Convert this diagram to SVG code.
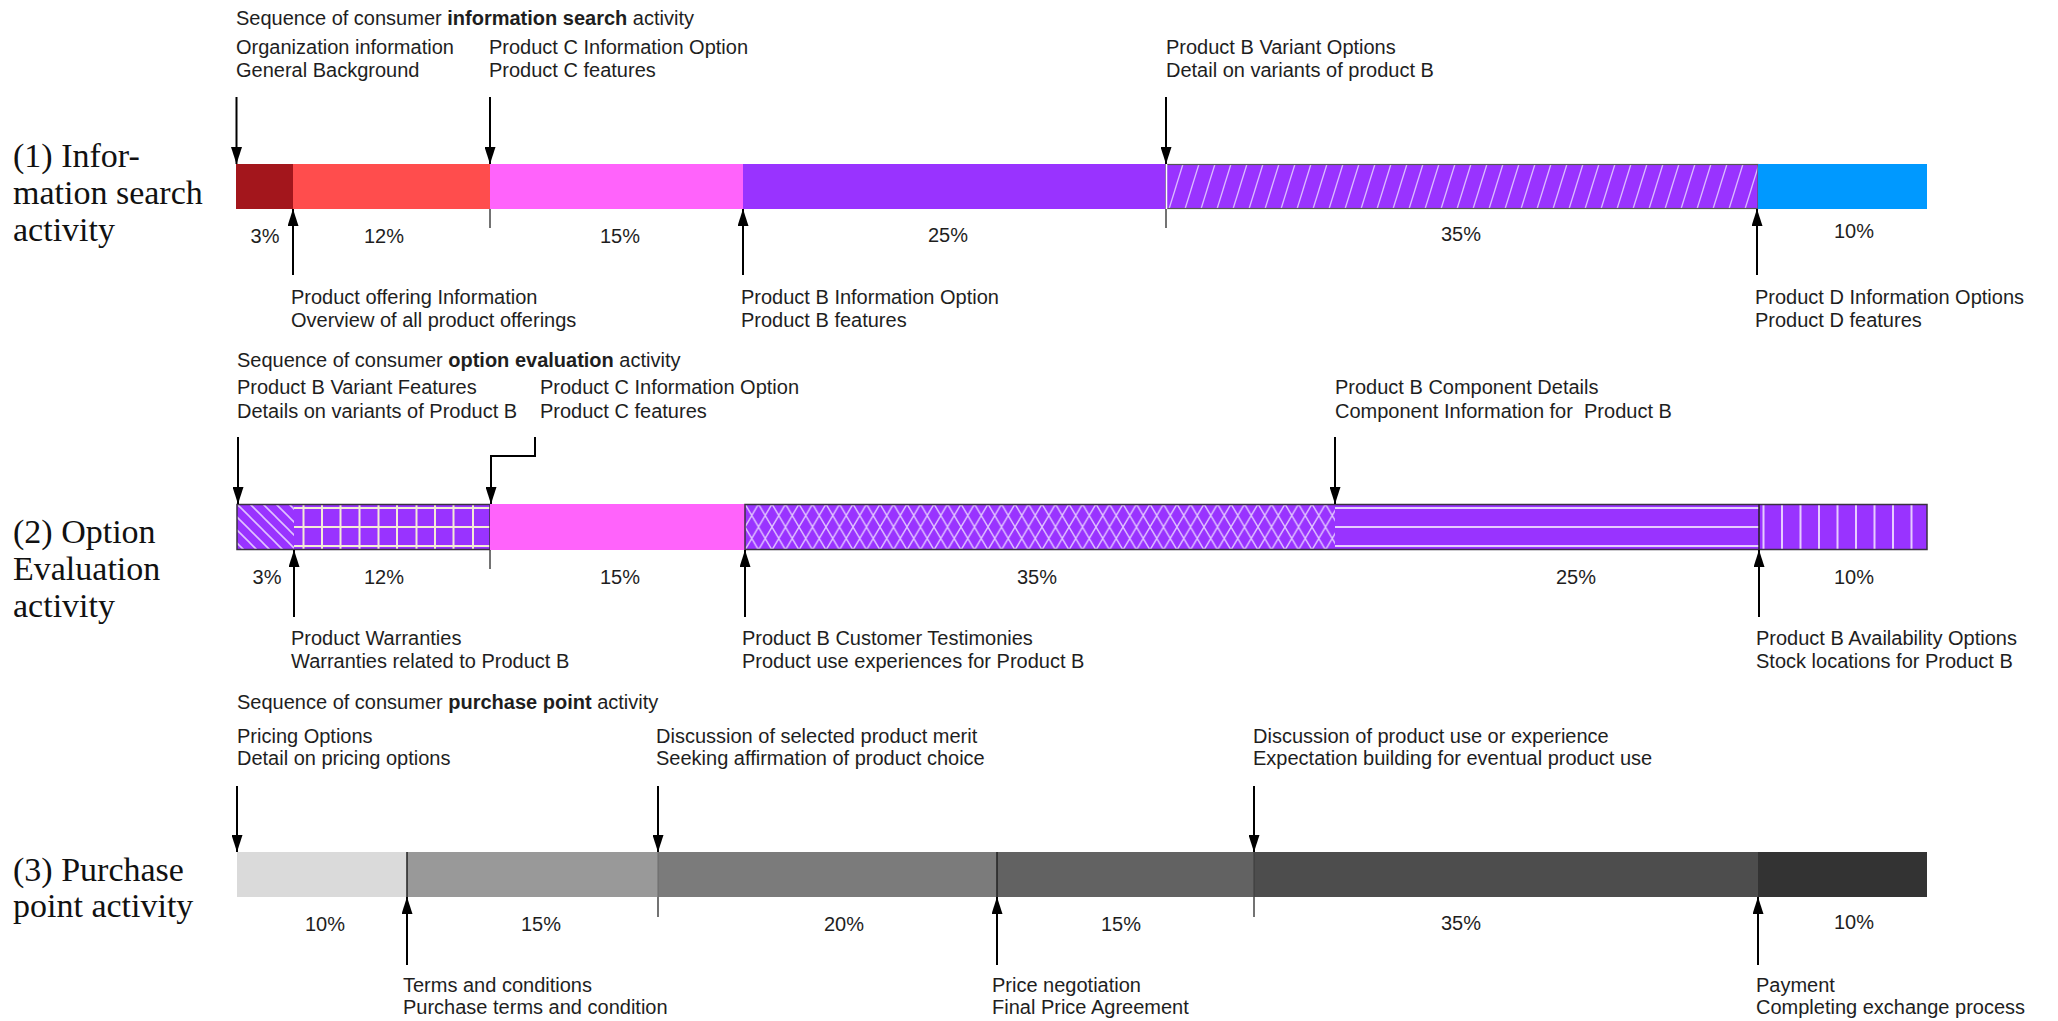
<svg xmlns="http://www.w3.org/2000/svg" width="2058" height="1021" viewBox="0 0 2058 1021">
<style>
.t{font-family:"Liberation Sans",Arial,sans-serif;font-size:20px;fill:#1e1e1e}
.c{text-anchor:middle}
.b{font-weight:bold}
.side{font-family:"Liberation Serif","Times New Roman",serif;font-size:34px;fill:#111}
.arr{stroke:#000;stroke-width:2;fill:none;marker-end:url(#ah)}
.tick{stroke:#444;stroke-width:1.5}
.lav{stroke:#e6ccff;stroke-width:2}
.cream{stroke:#f3ead6;stroke-width:2}
.ol{fill:none;stroke:#3a3040;stroke-width:1.5}
</style>
<defs>
<marker id="ah" markerUnits="userSpaceOnUse" markerWidth="17" markerHeight="11" viewBox="0 0 17 11" refX="17" refY="5.5" orient="auto">
<path d="M0,0 L17,5.5 L0,11 z" fill="#000"/>
</marker>
<pattern id="hatchR" patternUnits="userSpaceOnUse" x="0" y="164" width="16" height="45">
<rect width="16" height="45" fill="#9933ff"/>
<path d="M1,45 L15,0" stroke="#dcbcff" stroke-width="1.3"/>
</pattern>
<pattern id="hatchL" patternUnits="userSpaceOnUse" x="237" y="504" width="13" height="13">
<rect width="13" height="13" fill="#9933ff"/>
<path d="M0,0 L13,13 M-2,11 L2,15 M11,-2 L15,2" stroke="#e0c2ff" stroke-width="1.6"/>
</pattern>
<pattern id="cross" patternUnits="userSpaceOnUse" x="745" y="504" width="13.5" height="23">
<rect width="13.5" height="23" fill="#9933ff"/>
<path d="M0,0 L13.5,23 M13.5,0 L0,23" stroke="#e0c2ff" stroke-width="1.4"/>
</pattern>
</defs>
<rect width="2058" height="1021" fill="#fff"/>

<!-- Side labels -->
<g id="label-row1">
<text class="side" x="13" y="167">(1) Infor-</text>
<text class="side" x="13" y="204">mation search</text>
<text class="side" x="13" y="241">activity</text>
</g>
<g id="label-row2">
<text class="side" x="13" y="543">(2) Option</text>
<text class="side" x="13" y="580">Evaluation</text>
<text class="side" x="13" y="617">activity</text>
</g>
<g id="label-row3">
<text class="side" x="13" y="881">(3) Purchase</text>
<text class="side" x="13" y="917">point activity</text>
</g>

<!-- Row 1 bar -->
<g id="row1-bar">
<rect id="r1-s1" x="236" y="164" width="57" height="45" fill="#a3161c"/>
<rect id="r1-s2" x="293" y="164" width="197" height="45" fill="#ff4d4d"/>
<rect id="r1-s3" x="490" y="164" width="253" height="45" fill="#ff63fb"/>
<rect id="r1-s4" x="743" y="164" width="423" height="45" fill="#9933ff"/>
<rect id="r1-s5" x="1166" y="164" width="592" height="45" fill="url(#hatchR)"/>
<rect x="1166" y="164.5" width="592" height="44" fill="none" stroke="#555" stroke-width="1.2"/>
<line x1="1758" y1="164.5" x2="1842" y2="164.5" stroke="#bbb" stroke-width="1"/>
<rect id="r1-s6" x="1758" y="164" width="169" height="45" fill="#0099ff"/>
<line x1="1166.5" y1="164" x2="1166.5" y2="209" stroke="#fff" stroke-width="1.5"/>
</g>
<g id="row1-text">
<text class="t" x="236" y="25">Sequence of consumer <tspan class="b">information search</tspan> activity</text>
<text class="t" x="236" y="54">Organization information</text>
<text class="t" x="236" y="77">General Background</text>
<text class="t" x="489" y="54">Product C Information Option</text>
<text class="t" x="489" y="77">Product C features</text>
<text class="t" x="1166" y="54">Product B Variant Options</text>
<text class="t" x="1166" y="77">Detail on variants of product B</text>
<text class="t" x="291" y="304">Product offering Information</text>
<text class="t" x="291" y="327">Overview of all product offerings</text>
<text class="t" x="741" y="304">Product B Information Option</text>
<text class="t" x="741" y="327">Product B features</text>
<text class="t" x="1755" y="304">Product D Information Options</text>
<text class="t" x="1755" y="327">Product D features</text>
<text class="t c" x="265" y="243">3%</text>
<text class="t c" x="384" y="243">12%</text>
<text class="t c" x="620" y="243">15%</text>
<text class="t c" x="948" y="242">25%</text>
<text class="t c" x="1461" y="241">35%</text>
<text class="t c" x="1854" y="238">10%</text>
</g>

<!-- Row 2 bar -->
<g id="row2-bar">
<rect id="r2-s1" x="237" y="504" width="57" height="46" fill="url(#hatchL)"/>
<g id="r2-s2">
<rect x="294" y="504" width="196" height="46" fill="#9933ff"/>
<line class="cream" x1="294" y1="508" x2="490" y2="508"/>
<line class="cream" x1="294" y1="527" x2="490" y2="527"/>
<line class="cream" x1="294" y1="546" x2="490" y2="546"/>
<line class="cream" x1="303.5" y1="504" x2="303.5" y2="550"/>
<line class="cream" x1="322" y1="504" x2="322" y2="550"/>
<line class="cream" x1="340.5" y1="504" x2="340.5" y2="550"/>
<line class="cream" x1="359.5" y1="504" x2="359.5" y2="550"/>
<line class="cream" x1="378.5" y1="504" x2="378.5" y2="550"/>
<line class="cream" x1="397" y1="504" x2="397" y2="550"/>
<line class="cream" x1="416.5" y1="504" x2="416.5" y2="550"/>
<line class="cream" x1="435" y1="504" x2="435" y2="550"/>
<line class="cream" x1="453.5" y1="504" x2="453.5" y2="550"/>
<line class="cream" x1="473" y1="504" x2="473" y2="550"/>
</g>
<rect class="ol" x="237" y="504.5" width="253" height="45"/>
<rect id="r2-s3" x="490" y="504" width="255" height="46" fill="#ff63fb"/>
<rect id="r2-s4" x="745" y="504" width="590" height="46" fill="url(#cross)"/>
<g id="r2-s5">
<rect x="1335" y="504" width="424" height="46" fill="#9933ff"/>
<line class="lav" x1="1335" y1="508" x2="1759" y2="508"/>
<line class="lav" x1="1335" y1="527" x2="1759" y2="527"/>
<line class="lav" x1="1335" y1="546" x2="1759" y2="546"/>
</g>
<g id="r2-s6">
<rect x="1759" y="504" width="168" height="46" fill="#9933ff"/>
<line class="lav" x1="1763.5" y1="504" x2="1763.5" y2="550"/>
<line class="lav" x1="1782" y1="504" x2="1782" y2="550"/>
<line class="lav" x1="1800.5" y1="504" x2="1800.5" y2="550"/>
<line class="lav" x1="1819" y1="504" x2="1819" y2="550"/>
<line class="lav" x1="1837.5" y1="504" x2="1837.5" y2="550"/>
<line class="lav" x1="1856" y1="504" x2="1856" y2="550"/>
<line class="lav" x1="1874.5" y1="504" x2="1874.5" y2="550"/>
<line class="lav" x1="1893" y1="504" x2="1893" y2="550"/>
<line class="lav" x1="1911.5" y1="504" x2="1911.5" y2="550"/>
</g>
<rect class="ol" x="745" y="504.5" width="1182" height="45"/>
<line x1="1759" y1="504" x2="1759" y2="550" stroke="#222" stroke-width="1.5"/>
</g>
<g id="row2-text">
<text class="t" x="237" y="367">Sequence of consumer <tspan class="b">option evaluation</tspan> activity</text>
<text class="t" x="237" y="394">Product B Variant Features</text>
<text class="t" x="237" y="418">Details on variants of Product B</text>
<text class="t" x="540" y="394">Product C Information Option</text>
<text class="t" x="540" y="418">Product C features</text>
<text class="t" x="1335" y="394">Product B Component Details</text>
<text class="t" x="1335" y="418" style="white-space:pre">Component Information for  Product B</text>
<text class="t" x="291" y="645">Product Warranties</text>
<text class="t" x="291" y="668">Warranties related to Product B</text>
<text class="t" x="742" y="645">Product B Customer Testimonies</text>
<text class="t" x="742" y="668">Product use experiences for Product B</text>
<text class="t" x="1756" y="645">Product B Availability Options</text>
<text class="t" x="1756" y="668">Stock locations for Product B</text>
<text class="t c" x="267" y="584">3%</text>
<text class="t c" x="384" y="584">12%</text>
<text class="t c" x="620" y="584">15%</text>
<text class="t c" x="1037" y="584">35%</text>
<text class="t c" x="1576" y="584">25%</text>
<text class="t c" x="1854" y="584">10%</text>
</g>

<!-- Row 3 bar -->
<g id="row3-bar">
<rect id="r3-s1" x="237" y="852" width="170" height="45" fill="#dadada"/>
<rect id="r3-s2" x="407" y="852" width="251" height="45" fill="#999999"/>
<rect id="r3-s3" x="658" y="852" width="339" height="45" fill="#7b7b7b"/>
<rect id="r3-s4" x="997" y="852" width="257" height="45" fill="#626262"/>
<rect id="r3-s5" x="1254" y="852" width="504" height="45" fill="#4d4d4d"/>
<rect id="r3-s6" x="1758" y="852" width="169" height="45" fill="#333333"/>
<line x1="407" y1="852" x2="407" y2="897" stroke="#222" stroke-width="1.5"/>
<line x1="997" y1="852" x2="997" y2="897" stroke="#222" stroke-width="1.5"/>
<line x1="658" y1="852" x2="658" y2="897" stroke="#6a6a6a" stroke-width="1"/>
<line x1="1254" y1="852" x2="1254" y2="897" stroke="#3a3a3a" stroke-width="1"/>
</g>
<g id="row3-text">
<text class="t" x="237" y="709">Sequence of consumer <tspan class="b">purchase point</tspan> activity</text>
<text class="t" x="237" y="743">Pricing Options</text>
<text class="t" x="237" y="765">Detail on pricing options</text>
<text class="t" x="656" y="743">Discussion of selected product merit</text>
<text class="t" x="656" y="765">Seeking affirmation of product choice</text>
<text class="t" x="1253" y="743">Discussion of product use or experience</text>
<text class="t" x="1253" y="765">Expectation building for eventual product use</text>
<text class="t" x="403" y="992">Terms and conditions</text>
<text class="t" x="403" y="1014">Purchase terms and condition</text>
<text class="t" x="992" y="992">Price negotiation</text>
<text class="t" x="992" y="1014">Final Price Agreement</text>
<text class="t" x="1756" y="992">Payment</text>
<text class="t" x="1756" y="1014">Completing exchange process</text>
<text class="t c" x="325" y="931">10%</text>
<text class="t c" x="541" y="931">15%</text>
<text class="t c" x="844" y="931">20%</text>
<text class="t c" x="1121" y="931">15%</text>
<text class="t c" x="1461" y="930">35%</text>
<text class="t c" x="1854" y="929">10%</text>
</g>

<!-- Connectors -->
<g id="connectors">
<path class="arr" d="M236.5,97 V164"/>
<path class="arr" d="M490,97 V164"/>
<path class="arr" d="M1166,97 V164"/>
<path class="arr" d="M293,275 V209"/>
<path class="arr" d="M743,275 V209"/>
<path class="arr" d="M1757,275 V209"/>
<line class="tick" x1="490" y1="209" x2="490" y2="228"/>
<line class="tick" x1="1166" y1="209" x2="1166" y2="228"/>

<path class="arr" d="M238,437 V504"/>
<path class="arr" d="M535,437 V456 H491 V504"/>
<path class="arr" d="M1335,437 V504"/>
<path class="arr" d="M294,617 V550"/>
<path class="arr" d="M745,617 V550"/>
<path class="arr" d="M1759,617 V550"/>
<line class="tick" x1="490" y1="550" x2="490" y2="569"/>

<path class="arr" d="M237,786 V852"/>
<path class="arr" d="M658,786 V852"/>
<path class="arr" d="M1254,786 V852"/>
<path class="arr" d="M407,965 V897"/>
<path class="arr" d="M997,965 V897"/>
<path class="arr" d="M1758,965 V897"/>
<line class="tick" x1="658" y1="897" x2="658" y2="917"/>
<line class="tick" x1="1254" y1="897" x2="1254" y2="917"/>
</g>
</svg>
